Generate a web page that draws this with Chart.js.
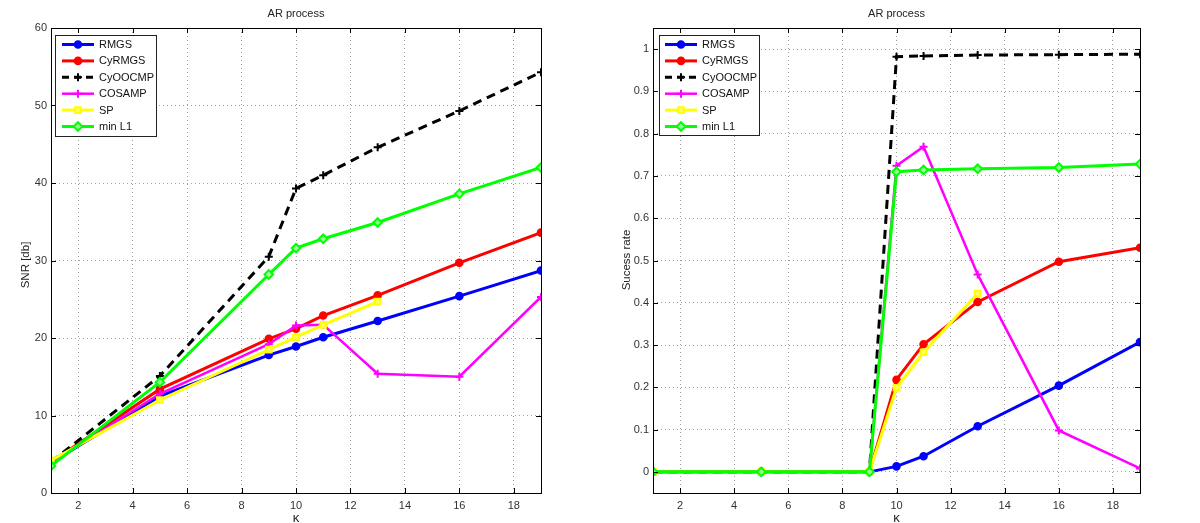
<!DOCTYPE html>
<html>
<head>
<meta charset="utf-8">
<script src="https://cdn.jsdelivr.net/npm/chart.js@4.4.1/dist/chart.umd.min.js"></script>
<style>
  html, body { margin: 0; padding: 0; background: #fff; }
  #wrap { position: relative; width: 1200px; height: 523px; }
  .box { position: absolute; top: 0; width: 600px; height: 523px; }
</style>
</head>
<body>
<div id="wrap">
  <div class="box" style="left:0"><canvas id="c1" width="600" height="523"></canvas></div>
  <div class="box" style="left:600px"><canvas id="c2" width="600" height="523"></canvas></div>
</div>
<script>
// ---- Data ----
const kValues = [1, 5, 9, 10, 11, 13, 16, 19];
const seriesNames = ['RMGS', 'CyRMGS', 'CyOOCMP', 'COSAMP', 'SP', 'min L1'];

// Left panel: SNR [db]
const snrRMGS    = [3.9, 12.5, 17.8, 18.9, 20.1, 22.2, 25.4, 28.7];
const snrCyRMGS  = [4.0, 13.4, 19.9, 21.2, 22.9, 25.5, 29.7, 33.6];
const snrCyOOCMP = [4.0, 15.1, 30.5, 39.3, 41.0, 44.6, 49.3, 54.3];
const snrCOSAMP  = [3.9, 12.8, 19.2, 21.6, 21.7, 15.4, 15.0, 25.3];
const snrSP      = [4.2, 12.0, 18.5, 20.1, 21.7, 24.7, null, null];
const snrMinL1   = [3.5, 14.3, 28.2, 31.6, 32.8, 34.9, 38.6, 42.0];

// Right panel: Success rate
const srRMGS    = [0, 0, 0, 0.013, 0.037, 0.108, 0.204, 0.307];
const srCyRMGS  = [0, 0, 0, 0.218, 0.302, 0.402, 0.497, 0.530];
const srCyOOCMP = [0, 0, 0, 0.982, 0.984, 0.986, 0.987, 0.988];
const srCOSAMP  = [0, 0, 0, 0.724, 0.769, 0.467, 0.098, 0.008];
const srSP      = [0, 0, 0, 0.199, 0.283, 0.422, null, null];
const srMinL1   = [0, 0, 0, 0.710, 0.714, 0.717, 0.720, 0.728];

// Tick labels
const xTicks = [2, 4, 6, 8, 10, 12, 14, 16, 18];
const snrTicks = [0, 10, 20, 30, 40, 50, 60];
const srTicks = [0, 0.1, 0.2, 0.3, 0.4, 0.5, 0.6, 0.7, 0.8, 0.9, 1];

// ---- Styles ----
const styles = [
  { color: '#0000ff', width: 3, dash: [], point: 'circle', radius: 3.3, fill: '#0000ff' },
  { color: '#ff0000', width: 3, dash: [], point: 'circle', radius: 3.3, fill: '#ff0000' },
  { color: '#000000', width: 3, dash: [9, 6], point: 'cross', radius: 4, fill: '#000000' },
  { color: '#ff00ff', width: 2.5, dash: [], point: 'cross', radius: 4, fill: '#ff00ff' },
  { color: '#ffff00', width: 3, dash: [], point: 'rect', radius: 4, fill: '#ffff66' },
  { color: '#00ff00', width: 3, dash: [], point: 'rectRot', radius: 4.3, fill: '#99ff99' }
];

const FONT = '"Liberation Sans", Arial, sans-serif';

function toPoints(ys) {
  const pts = [];
  ys.forEach((y, i) => { if (y !== null) pts.push({ x: kValues[i], y: y }); });
  return pts;
}

function makeDatasets(arrays) {
  return arrays.map((arr, i) => {
    const s = styles[i];
    return {
      label: seriesNames[i],
      data: toPoints(arr),
      borderColor: s.color,
      backgroundColor: s.fill,
      borderWidth: s.width,
      borderDash: s.dash,
      pointStyle: s.point,
      pointRadius: s.radius,
      pointBorderWidth: 2,
      pointBorderColor: s.color,
      pointBackgroundColor: s.fill,
      tension: 0,
      fill: false,
      order: arrays.length - i
    };
  });
}

const framePlugin = {
  id: 'frame',
  afterDraw(chart, args, opts) {
    const ctx = chart.ctx;
    const a = chart.chartArea;
    const xs = chart.scales.x, ys = chart.scales.y;
    ctx.save();
    // Box
    ctx.strokeStyle = '#000';
    ctx.lineWidth = 1;
    ctx.setLineDash([]);
    ctx.strokeRect(Math.round(a.left) + 0.5, Math.round(a.top) + 0.5, Math.round(a.right - a.left), Math.round(a.bottom - a.top));
    // inner tick marks
    const tl = 5;
    ctx.beginPath();
    xTicks.forEach(v => {
      const px = Math.round(xs.getPixelForValue(v)) + 0.5;
      ctx.moveTo(px, a.bottom); ctx.lineTo(px, a.bottom - tl);
      ctx.moveTo(px, a.top); ctx.lineTo(px, a.top + tl);
    });
    opts.yTicks.forEach(v => {
      const py = Math.round(ys.getPixelForValue(v)) + 0.5;
      ctx.moveTo(a.left, py); ctx.lineTo(a.left + tl, py);
      ctx.moveTo(a.right, py); ctx.lineTo(a.right - tl, py);
    });
    ctx.stroke();

    // Title
    ctx.fillStyle = '#222';
    ctx.font = '11px ' + FONT;
    ctx.textAlign = 'center';
    ctx.textBaseline = 'middle';
    const cx = (a.left + a.right) / 2;
    ctx.fillText('AR process', cx, 13.5);
    // X label
    ctx.font = '13px ' + FONT;
    ctx.fillText('κ', cx, 518);
    // Y label
    ctx.font = '11.5px ' + FONT;
    ctx.save();
    ctx.translate(opts.yLabelX, opts.yLabelY);
    ctx.rotate(-Math.PI / 2);
    ctx.fillText(opts.yLabel, 0, 0);
    ctx.restore();

    // Legend
    const L = opts.legend;
    ctx.fillStyle = '#fff';
    ctx.fillRect(L.x, L.y, L.w, L.h);
    ctx.strokeStyle = '#222';
    ctx.lineWidth = 1;
    ctx.strokeRect(L.x + 0.5, L.y + 0.5, L.w, L.h);
    chart.data.datasets.forEach((ds, i) => {
      const s = styles[i];
      const yy = L.y + 9.5 + i * 16.4;
      ctx.save();
      ctx.strokeStyle = s.color;
      ctx.lineWidth = s.width;
      ctx.setLineDash(s.dash.length ? [7, 5] : []);
      ctx.beginPath();
      ctx.moveTo(L.x + L.lineX0, yy);
      ctx.lineTo(L.x + L.lineX1, yy);
      ctx.stroke();
      ctx.setLineDash([]);
      ctx.lineWidth = 2;
      ctx.fillStyle = s.fill;
      Chart.helpers.drawPoint(ctx, { pointStyle: s.point, radius: s.radius, borderWidth: 2 }, L.x + (L.lineX0 + L.lineX1) / 2, yy);
      ctx.restore();
      ctx.fillStyle = '#111';
      ctx.font = '11px ' + FONT;
      ctx.textAlign = 'left';
      ctx.textBaseline = 'middle';
      ctx.fillText(ds.label, L.x + L.textX, yy + 0.5);
    });
    ctx.restore();
  }
};

function makeChart(id, arrays, yMin, yMax, yTicks, fmt, padLeftW, padRight, yLabel, yLabelX, yLabelY, legend) {
  return new Chart(document.getElementById(id), {
    type: 'line',
    data: { datasets: makeDatasets(arrays) },
    options: {
      responsive: false,
      animation: false,
      devicePixelRatio: 1,
      layout: { padding: { top: 28, right: padRight, left: 0, bottom: 0 } },
      plugins: {
        legend: { display: false },
        tooltip: { enabled: false },
        title: { display: false },
        frame: { yTicks: yTicks, yLabel: yLabel, yLabelX: yLabelX, yLabelY: yLabelY, legend: legend }
      },
      scales: {
        x: {
          type: 'linear',
          min: 1, max: 19,
          afterBuildTicks: sc => { sc.ticks = xTicks.map(v => ({ value: v })); },
          afterFit: sc => { sc.height = 30; },
          border: { display: false, dash: [1, 3] },
          grid: { color: '#a0a0a0', lineWidth: 1, drawTicks: false },
          ticks: { color: '#333', font: { family: FONT, size: 11 }, padding: 6, maxRotation: 0, autoSkip: false }
        },
        y: {
          type: 'linear',
          min: yMin, max: yMax,
          afterBuildTicks: sc => { sc.ticks = yTicks.map(v => ({ value: v })); },
          afterFit: sc => { sc.width = padLeftW; },
          border: { display: false, dash: [1, 3] },
          grid: { color: '#a0a0a0', lineWidth: 1, drawTicks: false },
          ticks: { color: '#333', font: { family: FONT, size: 11 }, padding: 4, callback: v => fmt(v), autoSkip: false }
        }
      }
    },
    plugins: [framePlugin]
  });
}

makeChart('c1',
  [snrRMGS, snrCyRMGS, snrCyOOCMP, snrCOSAMP, snrSP, snrMinL1],
  0, 60, snrTicks, v => String(v), 51, 59, 'SNR [db]', 26, 265,
  { x: 55, y: 35, w: 101, h: 101, lineX0: 7, lineX1: 39, textX: 44 });

makeChart('c2',
  [srRMGS, srCyRMGS, srCyOOCMP, srCOSAMP, srSP, srMinL1],
  -0.05, 1.05, srTicks, v => (Math.round(v * 10) / 10).toString(), 53, 60, 'Sucess rate', 27, 260,
  { x: 59, y: 35, w: 100, h: 100, lineX0: 6, lineX1: 38, textX: 43 });
</script>
</body>
</html>
